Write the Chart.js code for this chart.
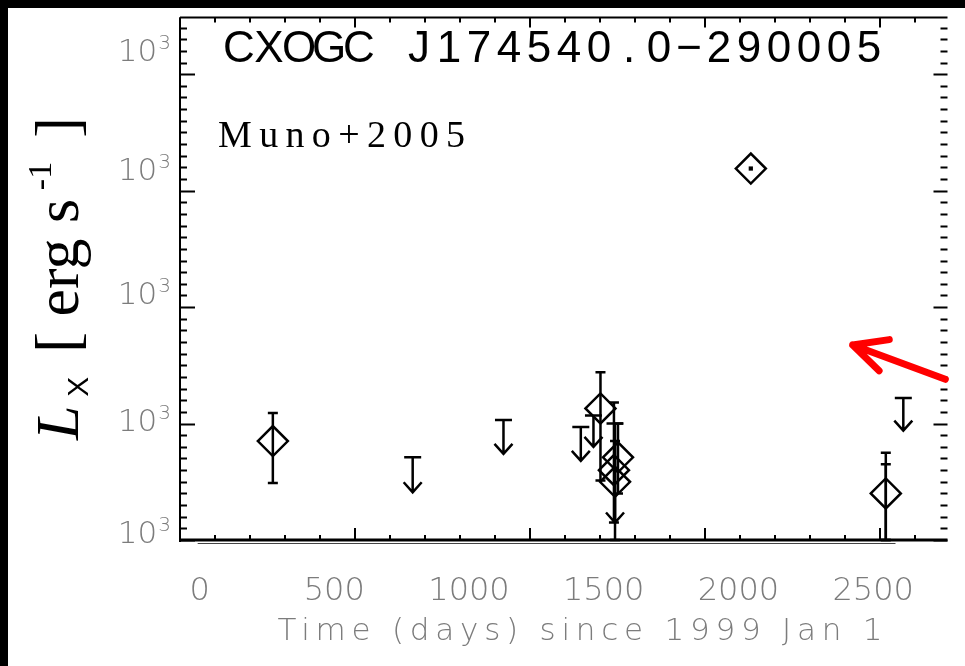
<!DOCTYPE html>
<html>
<head>
<meta charset="utf-8">
<script src="https://cdn.jsdelivr.net/npm/chart.js@4.4.1/dist/chart.umd.min.js"></script>
<style>
  html, body { margin: 0; padding: 0; background: #fff; overflow: hidden; }
  #lc { display: block; }
</style>
</head>
<body>
<canvas id="lc" width="965" height="666"></canvas>
<script>
// axis labels (days since 1999 Jan 1, log10 Lx)
const xTickLabels = [0, 500, 1000, 1500, 2000, 2500];
const yLabelPos = [31.07, 32.03, 33.12, 34.19, 35.21];
const yLabelBase = '10';
const yLabelExp = '3';

// detections (diamonds)
const detDays = [272, 1488, 1553, 1538, 1542, 2547];
const detLogL = [31.85, 32.13, 31.71, 31.60, 31.50, 31.40];

// the bright one with the dot
const flareDays = [2046];
const flareLogL = [34.19];

// error bars
const errDays = [272, 1488, 1553, 1538, 1542, 2547, 2547];
const errLow  = [31.49, 31.51, 31.40, 31.15, 31.00, 31.00, 31.00];
const errHigh = [32.09, 32.44, 32.00, 32.18, 31.85, 31.75, 31.65];

// upper limits (arrows)
const ulDays = [791, 1128, 1415, 1462, 1542, 2612];
const ulTop  = [31.71, 32.03, 31.97, 32.07, 32.00, 32.22];
const ulTip  = [31.41, 31.74, 31.68, 31.80, 31.15, 31.94];

// red pointer [day, logL]
const pointerFrom = [2768, 32.38];
const pointerTo = [2424, 32.675];

// under-axis line span (days)
const baseSpan = [-7, 2583];

const xMin = -72.6, xMax = 2776;
const yMin = 31, yMax = 35.487;

const gray = '#7c7c7c';
const thinFont = '"DejaVu Sans", sans-serif';

// spread text to a given width with letter spacing, no transforms
function spreadText(ctx, text, x, y, w, align) {
  ctx.letterSpacing = '0px';
  const m = ctx.measureText(text).width;
  const gap = (w - m) / Math.max(text.length - 1, 1);
  ctx.letterSpacing = gap.toFixed(2) + 'px';
  ctx.textAlign = 'left';
  const left = align === 'center' ? x - w / 2 : x;
  ctx.fillText(text, left, y);
  ctx.letterSpacing = '0px';
}

// fixed-pitch text, one glyph per cell
function pitchText(ctx, text, x, y, pitch) {
  ctx.textAlign = 'center';
  [...text].forEach((ch, i) => {
    ctx.fillText(ch, x + pitch * (i + 0.5), y);
  });
  ctx.textAlign = 'left';
}

const lcPlugin = {
  id: 'lc',
  beforeDraw(chart) {
    const ctx = chart.ctx;
    ctx.save();
    ctx.fillStyle = '#fff';
    ctx.fillRect(0, 0, chart.width, chart.height);
    ctx.fillStyle = '#000';
    ctx.fillRect(0, 0, chart.width, 8);
    ctx.fillRect(0, 0, 8, chart.height);
    ctx.restore();
  },
  beforeDatasetsDraw(chart) {
    const ctx = chart.ctx;
    const x = chart.scales.x, y = chart.scales.y;
    ctx.save();
    ctx.strokeStyle = '#000';
    ctx.lineWidth = 2.5;
    ctx.lineCap = 'butt';
    // error bars
    errDays.forEach((d, i) => {
      const px = x.getPixelForValue(d);
      const lo = y.getPixelForValue(errLow[i]);
      const hi = y.getPixelForValue(errHigh[i]);
      ctx.beginPath();
      ctx.moveTo(px, lo); ctx.lineTo(px, hi);
      ctx.moveTo(px - 5, hi); ctx.lineTo(px + 5, hi);
      ctx.moveTo(px - 5, lo); ctx.lineTo(px + 5, lo);
      ctx.stroke();
    });
    // upper limits
    ulDays.forEach((d, i) => {
      const px = x.getPixelForValue(d);
      const top = y.getPixelForValue(ulTop[i]);
      const tip = y.getPixelForValue(ulTip[i]);
      ctx.beginPath();
      ctx.moveTo(px - 8.5, top); ctx.lineTo(px + 8.5, top);
      ctx.moveTo(px, top); ctx.lineTo(px, tip);
      ctx.moveTo(px - 9, tip - 10); ctx.lineTo(px, tip); ctx.lineTo(px + 9, tip - 10);
      ctx.stroke();
    });
    ctx.restore();
  },
  afterDatasetsDraw(chart) {
    const ctx = chart.ctx;
    const a = chart.chartArea;
    const x = chart.scales.x, y = chart.scales.y, xt = chart.scales.xt;
    ctx.save();
    ctx.fillStyle = '#000';
    // frame
    ctx.fillRect(a.left, a.top - 1, a.right - a.left, 2);
    ctx.fillRect(a.left - 1, a.top, 2, a.bottom - a.top + 2);
    ctx.fillRect(a.left, a.bottom - 1.5, a.right - a.left, 3);
    // thin line below the axis
    ctx.fillStyle = '#444';
    const b0 = x.getPixelForValue(baseSpan[0]), b1 = x.getPixelForValue(baseSpan[1]);
    ctx.fillRect(b0, a.bottom + 3, b1 - b0, 1);
    // tick marks, pointing inward
    ctx.strokeStyle = '#000';
    ctx.lineWidth = 2;
    ctx.beginPath();
    for (let i = 0; i <= xt.max; i++) {
      const px = Math.round(xt.getPixelForValue(i));
      const major = i % 5 === 0;
      ctx.moveTo(px, a.bottom); ctx.lineTo(px, a.bottom - (major ? 12 : 5));
      ctx.moveTo(px, a.top); ctx.lineTo(px, a.top + (major ? 10 : 5));
    }
    for (let k = 0; k <= 44; k++) {
      const v = yMin + k / 10;
      const py = Math.round(y.getPixelForValue(v)) + 0.5;
      const major = k % 10 === 0;
      ctx.moveTo(a.left, py); ctx.lineTo(a.left + (major ? 15 : 7), py);
      ctx.moveTo(a.right, py); ctx.lineTo(a.right - (major ? 14 : 7), py);
    }
    ctx.stroke();

    // red pointer
    const fx = x.getPixelForValue(pointerFrom[0]), fy = y.getPixelForValue(pointerFrom[1]);
    const tx = x.getPixelForValue(pointerTo[0]), ty = y.getPixelForValue(pointerTo[1]);
    const ang = Math.atan2(fy - ty, fx - tx);
    ctx.strokeStyle = '#ff0000';
    ctx.lineWidth = 7;
    ctx.lineCap = 'round';
    ctx.lineJoin = 'round';
    ctx.beginPath();
    ctx.moveTo(fx, fy);
    ctx.lineTo(tx, ty);
    ctx.moveTo(tx + 37 * Math.cos(ang - 0.5), ty + 37 * Math.sin(ang - 0.5));
    ctx.lineTo(tx, ty);
    ctx.lineTo(tx + 37 * Math.cos(ang + 0.42), ty + 37 * Math.sin(ang + 0.42));
    ctx.stroke();

    // tick labels
    ctx.fillStyle = gray;
    ctx.textBaseline = 'alphabetic';
    yLabelPos.forEach(v => {
      const py = y.getPixelForValue(v);
      ctx.font = '200 20px ' + thinFont;
      ctx.textAlign = 'right';
      ctx.fillText(yLabelExp, a.left - 9, py - 1);
      const ew = ctx.measureText(yLabelExp).width;
      ctx.font = '200 31px ' + thinFont;
      ctx.fillText(yLabelBase, a.left - 10 - ew, py + 11);
    });
    ctx.font = '200 32px ' + thinFont;
    ctx.textAlign = 'center';
    xTickLabels.forEach(v => {
      ctx.fillText(String(v), x.getPixelForValue(v), a.bottom + 60);
    });

    // texts
    ctx.fillStyle = '#000';
    ctx.font = '44px "Liberation Sans", sans-serif';
    pitchText(ctx, 'CXOGC J174540.0\u2212290005', 224, 62, 30);
    ctx.font = '38px "Liberation Serif", serif';
    spreadText(ctx, 'Muno+2005', 218, 147, 247);

    ctx.fillStyle = gray;
    ctx.font = '200 31px ' + thinFont;
    spreadText(ctx, 'Time (days) since 1999 Jan 1', 580, 640, 605, 'center');

    // y title, rotated
    ctx.fillStyle = '#000';
    ctx.textAlign = 'left';
    const parts = [
      ['L', 'italic 62px "Liberation Serif", serif', 0],
      ['X', '30px "Liberation Sans", sans-serif', 10],
      [' [ erg s', '62px "Liberation Serif", serif', 0],
      ['-1', '34px "Liberation Serif", serif', -27],
      [' ]', '62px "Liberation Serif", serif', 0]
    ];
    let total = 0;
    parts.forEach(p => { ctx.font = p[1]; total += ctx.measureText(p[0]).width; });
    const extra = (323 - total) / 4;
    ctx.translate(78, 440);
    ctx.rotate(-Math.PI / 2);
    let cx = 0;
    parts.forEach((p, i) => {
      ctx.font = p[1];
      ctx.fillText(p[0], cx, p[2]);
      cx += ctx.measureText(p[0]).width + (i < parts.length - 1 ? extra : 0);
    });
    ctx.restore();
  }
};

new Chart(document.getElementById('lc'), {
  type: 'scatter',
  data: {
    datasets: [
      {
        data: detDays.map((d, i) => ({ x: d, y: detLogL[i] })),
        pointStyle: 'rectRot',
        pointRadius: 15,
        borderColor: '#000',
        backgroundColor: 'rgba(0,0,0,0)',
        borderWidth: 2.5
      },
      {
        data: flareDays.map((d, i) => ({ x: d, y: flareLogL[i] })),
        pointStyle: 'rectRot',
        pointRadius: 15,
        borderColor: '#000',
        backgroundColor: 'rgba(0,0,0,0)',
        borderWidth: 2.5
      },
      {
        data: flareDays.map((d, i) => ({ x: d, y: flareLogL[i] })),
        pointStyle: 'rect',
        pointRadius: 3,
        borderColor: '#000',
        backgroundColor: '#000',
        borderWidth: 0
      }
    ]
  },
  options: {
    responsive: false,
    animation: false,
    devicePixelRatio: 1,
    events: [],
    clip: false,
    layout: { padding: { top: 15, right: 0, left: 180, bottom: 126 } },
    plugins: { legend: { display: false }, tooltip: { enabled: false } },
    scales: {
      x: { type: 'linear', position: 'bottom', display: false, min: xMin, max: xMax },
      y: { type: 'linear', position: 'left', display: false, min: yMin, max: yMax },
      xt: { type: 'linear', axis: 'x', position: 'top', display: false, min: 0, max: 21.93 }
    }
  },
  plugins: [lcPlugin]
});
</script>
</body>
</html>
